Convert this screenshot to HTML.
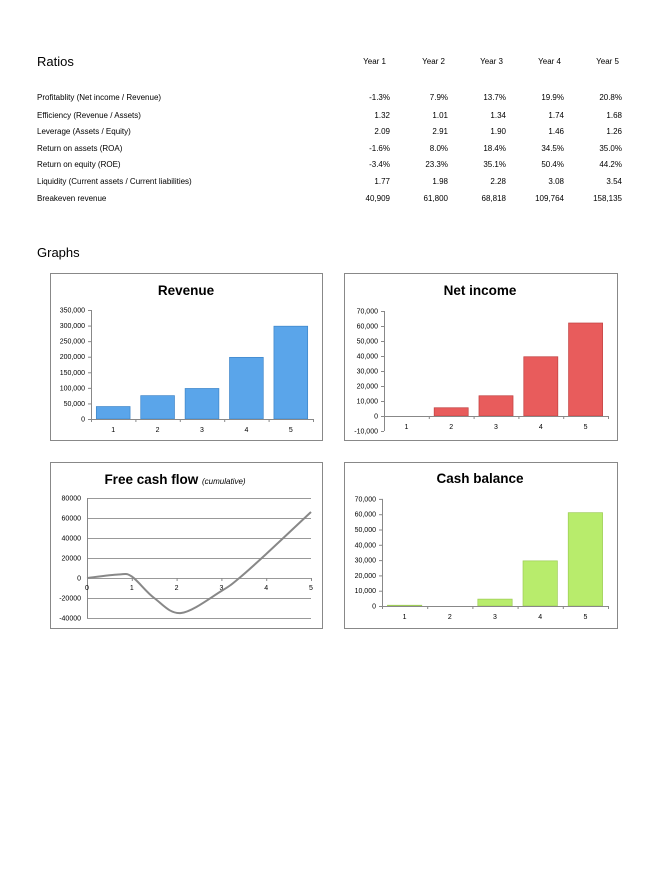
<!DOCTYPE html>
<html><head><meta charset="utf-8"><style>
html,body{margin:0;padding:0;background:#fff}
svg{display:block;font-family:"Liberation Sans",sans-serif}
</style></head><body>
<svg id="s" width="661" height="888" viewBox="0 0 661 888" xmlns="http://www.w3.org/2000/svg">
<rect width="661" height="888" fill="#fff"/>
<g fill="#000">
<text x="37" y="66" font-size="13">Ratios</text>
<g font-size="8" text-anchor="end">
<text x="386" y="64">Year 1</text><text x="445" y="64">Year 2</text><text x="503" y="64">Year 3</text><text x="561" y="64">Year 4</text><text x="619" y="64">Year 5</text>
</g>
<g font-size="8">
<text x="37" y="100">Profitablity (Net income / Revenue)</text>
<text x="37" y="118">Efficiency (Revenue  / Assets)</text>
<text x="37" y="134">Leverage (Assets / Equity)</text>
<text x="37" y="151">Return on assets (ROA)</text>
<text x="37" y="167">Return on equity (ROE)</text>
<text x="37" y="184">Liquidity (Current assets / Current liabilities)</text>
<text x="37" y="201">Breakeven revenue</text>
</g>
<g font-size="8" text-anchor="end" id="vals"></g>
<text x="37" y="257" font-size="13">Graphs</text>
</g>
<g fill="none" stroke="#888" stroke-width="1">
<rect x="50.5" y="273.5" width="272" height="167"/>
<rect x="344.5" y="273.5" width="273" height="167"/>
<rect x="50.5" y="462.5" width="272" height="166"/>
<rect x="344.5" y="462.5" width="273" height="166"/>
</g>
<g font-weight="bold" font-size="13.5" text-anchor="middle" fill="#000">
<text x="186" y="295">Revenue</text>
<text x="480" y="295">Net income</text>
<text x="480" y="483">Cash balance</text>
<text x="175" y="484">Free cash flow <tspan font-weight="normal" font-style="italic" font-size="8">(cumulative)</tspan></text>
</g>
<g id="charts"></g>
</svg>
<script>
var NS="http://www.w3.org/2000/svg";
function el(p,t,a,txt){var e=document.createElementNS(NS,t);for(var k in a)e.setAttribute(k,a[k]);if(txt!=null)e.textContent=txt;p.appendChild(e);return e;}
var V=document.getElementById("vals");
var rows=[["-1.3%","7.9%","13.7%","19.9%","20.8%"],["1.32","1.01","1.34","1.74","1.68"],["2.09","2.91","1.90","1.46","1.26"],["-1.6%","8.0%","18.4%","34.5%","35.0%"],["-3.4%","23.3%","35.1%","50.4%","44.2%"],["1.77","1.98","2.28","3.08","3.54"],["40,909","61,800","68,818","109,764","158,135"]];
var ys=[100,118,134,151,167,184,201],xs=[390,448,506,564,622];
rows.forEach(function(r,i){r.forEach(function(v,j){el(V,"text",{x:xs[j],y:ys[i]},v);});});
var C=document.getElementById("charts");
function bar(ax,x1,y0,unit,tickTop,tickBot,step,vals,fill,stroke,fmt,labY){
  var cw=(x1-ax)/5;
  // y axis
  el(C,"line",{x1:ax+.5,y1:y0-tickTop*unit,x2:ax+.5,y2:y0-tickBot*unit,stroke:"#888"});
  for(var v=tickBot;v<=tickTop;v+=step){var y=y0-v*unit;el(C,"line",{x1:ax-3,y1:y+.5,x2:ax,y2:y+.5,stroke:"#888"});
    el(C,"text",{x:ax-6,y:y+2.5,"font-size":"7","text-anchor":"end",fill:"#000"},fmt(v));}
  vals.forEach(function(v,i){var bx=ax+i*cw+cw*0.12,bw=cw*0.76;var h=v*unit;
    if(v>0)el(C,"rect",{x:bx,y:y0-h,width:bw,height:h,fill:fill,stroke:stroke,"stroke-width":"0.7"});
    el(C,"text",{x:ax+i*cw+cw/2,y:labY,"font-size":"7","text-anchor":"middle",fill:"#000"},String(i+1));});
  el(C,"line",{x1:ax,y1:y0+.5,x2:x1,y2:y0+.5,stroke:"#888"});
  for(var i=0;i<=5;i++){var x=ax+i*cw;el(C,"line",{x1:x+.5,y1:y0,x2:x+.5,y2:y0+3,stroke:"#888"});}
}
function f(v){return v==0?"0":(v<0?"-":"")+Math.abs(v).toLocaleString("en-US");}
bar(91,313,419,109/350000,350000,0,50000,[40000,75000,98000,198000,298000],"#5aa5ea","#3d85c8",f,432);
bar(384,608,416,15/10000,70000,-10000,10000,[0,5500,13500,39500,62000],"#e85c5c","#c04040",f,429);
bar(382,608,606,15.3/10000,70000,0,10000,[500,0,4500,29500,61000],"#b8ec6c","#9ccc55",f,619);
// FCF
var x0=87,xw=44.8,y0=578,u=1/1000;
for(var v=-40000;v<=80000;v+=20000){var y=y0-v*u;el(C,"line",{x1:x0,y1:y+.5,x2:311,y2:y+.5,stroke:"#999"});
  el(C,"text",{x:81,y:y+2.5,"font-size":"7","text-anchor":"end",fill:"#000"},String(v));}
el(C,"line",{x1:x0+.5,y1:y0-80000*u,x2:x0+.5,y2:y0+40000*u,stroke:"#888"});
for(var i=0;i<=5;i++){var x=x0+i*xw;el(C,"line",{x1:x+.5,y1:y0,x2:x+.5,y2:y0+3,stroke:"#888"});
  el(C,"text",{x:x,y:y0+12,"font-size":"7","text-anchor":"middle",fill:"#000"},String(i));}
var P=[[0,0],[0.7,3500],[1,1500],[1.5,-20000],[2.1,-35000],[3,-13000],[3.4,0],[4,24000],[5,66000]].map(function(p){return [x0+p[0]*xw,y0-p[1]*u];});
var d="M"+P[0][0]+","+P[0][1];
for(var i=0;i<P.length-1;i++){var p0=P[Math.max(0,i-1)],p1=P[i],p2=P[i+1],p3=P[Math.min(P.length-1,i+2)];
 d+=" C"+(p1[0]+(p2[0]-p0[0])/6)+","+(p1[1]+(p2[1]-p0[1])/6)+" "+(p2[0]-(p3[0]-p1[0])/6)+","+(p2[1]-(p3[1]-p1[1])/6)+" "+p2[0]+","+p2[1];}
el(C,"path",{d:d,fill:"none",stroke:"#888","stroke-width":"2"});
</script>
</body></html>
